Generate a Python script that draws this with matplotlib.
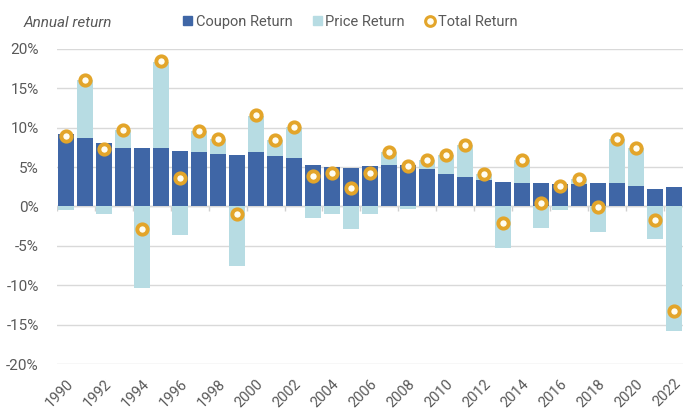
import matplotlib
matplotlib.use("Agg")
import matplotlib.pyplot as plt
import numpy as np
from matplotlib.lines import Line2D
from matplotlib.patches import Patch

years = list(range(1990, 2023))
coupon = [9.2, 8.7, 8.1, 7.4, 7.4, 7.4, 7.1, 6.9, 6.7, 6.55, 6.9, 6.4, 6.1,
          5.3, 5.0, 4.9, 5.15, 5.3, 5.3, 4.8, 4.1, 3.8, 3.4, 3.1, 3.0, 3.0,
          2.85, 2.85, 3.0, 3.0, 2.6, 2.2, 2.5]
price = [-0.4, 7.3, -0.9, 2.3, -10.3, 11.0, -3.6, 2.7, 1.9, -7.6, 4.6, 2.0, 4.0,
         -1.45, -0.9, -2.8, -1.0, 1.6, -0.3, 1.1, 2.4, 4.0, 0.7, -5.3, 2.9, -2.7,
         -0.4, 0.6, -3.2, 5.6, 4.8, -4.1, -15.8]
total = [8.9, 16.0, 7.3, 9.7, -2.9, 18.5, 3.6, 9.6, 8.6, -1.0, 11.6, 8.4, 10.1,
         3.9, 4.2, 2.3, 4.25, 6.9, 5.1, 5.9, 6.5, 7.8, 4.1, -2.1, 5.9, 0.4,
         2.55, 3.45, -0.1, 8.6, 7.4, -1.7, -13.3]
yticks = [-20, -15, -10, -5, 0, 5, 10, 15, 20]

plt.rcParams['font.family'] = ['Roboto', 'DejaVu Sans']
C_COUPON = '#3F66A6'
C_PRICE = '#B7DCE3'
C_TOTAL = '#E3A52A'
C_TEXT = '#595959'

fig = plt.figure(figsize=(7.0, 4.18), dpi=100)
ax = fig.add_axes([0.081, 0.129, 0.895, 0.754])

x = np.arange(len(years))
coupon = np.array(coupon)
price = np.array(price)
pbottom = np.where(price >= 0, coupon, 0)
w = 0.84
ax.bar(x, coupon, width=w, color=C_COUPON, zorder=3)
ax.bar(x, price, width=w, bottom=pbottom, color=C_PRICE, zorder=2)
ax.scatter(x, total, s=55, facecolor='#FFFDF2', edgecolor=C_TOTAL,
           linewidth=2.8, zorder=5)

ax.set_ylim(-20, 20)
ax.set_xlim(-0.5, len(years) - 0.5)
ax.set_yticks(yticks)
ax.set_yticklabels([f'{t}%' for t in yticks], fontsize=11, color=C_TEXT)
ax.yaxis.grid(True, color='#D9D9D9', linewidth=1, zorder=0)
ax.tick_params(axis='y', length=0, pad=13)
ax.set_xticks(x[::2])
ax.set_xticklabels([str(y) for y in years[::2]], rotation=45, ha='right',
                   rotation_mode='anchor', fontsize=10.5, color=C_TEXT)
ax.tick_params(axis='x', length=0, pad=9)
for s in ax.spines.values():
    s.set_visible(False)
ax.axhline(0, color='#D0D0D0', linewidth=1, zorder=1)
ax.vlines(x[::2] - 0.5, -0.6, 0, color='#D0D0D0', linewidth=1, zorder=1)

fig.text(0.034, 0.945, 'Annual return', fontsize=11, style='italic',
         color=C_TEXT, va='center')
handles = [Patch(color=C_COUPON), Patch(color=C_PRICE),
           Line2D([], [], marker='o', linestyle='none', markersize=7,
                  markerfacecolor='#FFFDF2', markeredgecolor=C_TOTAL,
                  markeredgewidth=2.2)]
fig.legend(handles, ['Coupon Return', 'Price Return', 'Total Return'],
           loc='center left', bbox_to_anchor=(0.243, 0.948), ncol=3,
           frameon=False, fontsize=10.5, labelcolor=C_TEXT,
           handlelength=0.6, handleheight=0.6, handletextpad=0.25,
           columnspacing=1.4)

fig.savefig('out.png', dpi=100)
